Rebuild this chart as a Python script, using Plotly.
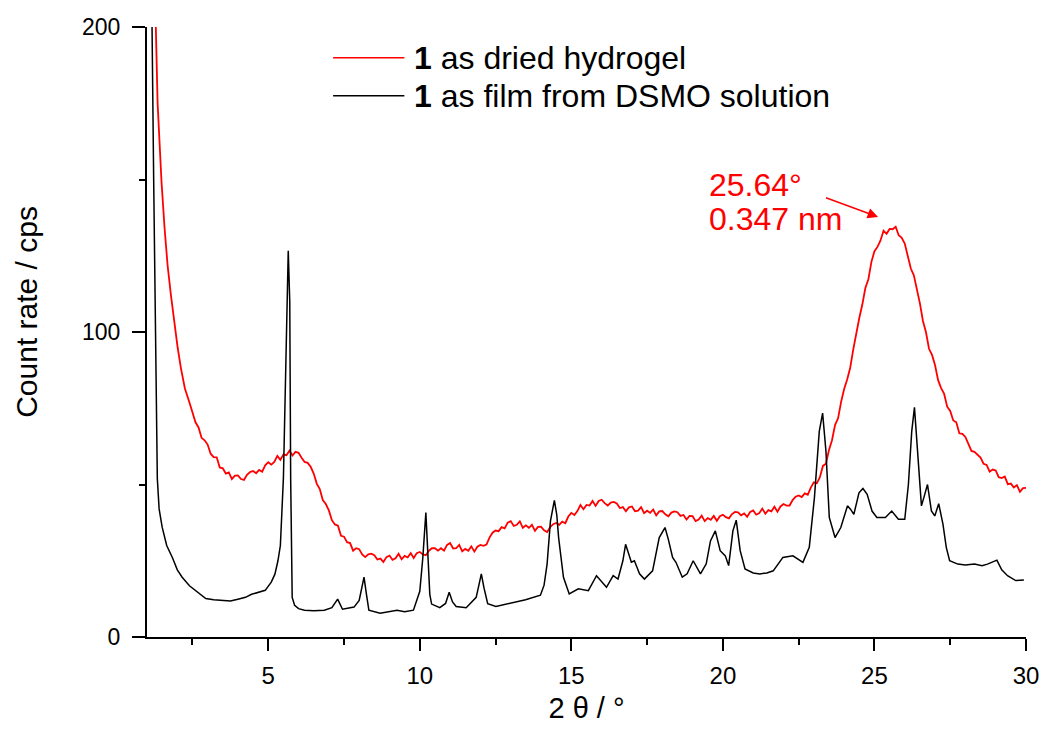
import plotly.graph_objects as go

# ---- data ----
black_x = [1.05, 1.15, 1.22, 1.30, 1.34, 1.40, 1.50, 1.65, 1.84, 2.00, 2.16, 2.40, 2.60, 2.94, 3.20, 3.46, 3.75, 4.00, 4.25, 4.45, 4.70, 4.90, 5.10, 5.22, 5.32, 5.40, 5.50, 5.58, 5.66, 5.71, 5.74, 5.79, 5.87, 6.00, 6.20, 6.50, 6.85, 7.10, 7.29, 7.45, 7.83, 8.00, 8.10, 8.16, 8.24, 8.32, 8.69, 9.00, 9.25, 9.50, 9.79, 10.00, 10.10, 10.20, 10.27, 10.33, 10.39, 10.55, 10.66, 10.85, 10.97, 11.08, 11.20, 11.53, 11.86, 11.95, 12.03, 12.12, 12.24, 12.51, 12.95, 13.49, 13.98, 14.10, 14.20, 14.31, 14.44, 14.52, 14.58, 14.66, 14.74, 14.93, 15.23, 15.56, 15.83, 16.16, 16.38, 16.54, 16.70, 16.79, 16.98, 17.08, 17.25, 17.41, 17.68, 17.90, 18.09, 18.20, 18.34, 18.45, 18.66, 18.82, 19.02, 19.26, 19.45, 19.59, 19.75, 19.91, 20.08, 20.19, 20.33, 20.44, 20.57, 20.73, 21.00, 21.22, 21.45, 21.66, 21.98, 22.31, 22.64, 22.85, 23.02, 23.18, 23.29, 23.40, 23.51, 23.70, 23.89, 24.11, 24.21, 24.32, 24.49, 24.62, 24.76, 24.92, 25.08, 25.36, 25.57, 25.79, 26.00, 26.12, 26.23, 26.32, 26.42, 26.55, 26.63, 26.75, 26.88, 26.99, 27.12, 27.26, 27.37, 27.48, 27.75, 28.00, 28.30, 28.55, 28.73, 29.04, 29.20, 29.39, 29.66, 29.93]
black_y = [260, 215, 150, 85, 52, 42, 36, 30, 26, 22, 19.6, 16.8, 15.3, 12.6, 12.2, 12.0, 11.8, 12.4, 13.0, 14.0, 14.6, 15.3, 18.0, 20.6, 25.0, 30.0, 52.0, 90.0, 126.6, 110.0, 52.0, 13.0, 10.4, 9.3, 8.8, 8.6, 8.8, 9.6, 12.4, 9.1, 9.8, 12.0, 17.0, 19.6, 14.0, 8.8, 7.8, 8.4, 8.8, 8.3, 8.8, 15.0, 26.0, 40.8, 28.0, 14.0, 10.8, 10.0, 9.6, 11.0, 14.7, 11.5, 10.0, 9.6, 13.0, 17.0, 20.7, 16.0, 10.9, 10.0, 11.1, 12.2, 13.7, 17.0, 23.9, 38.0, 44.8, 40.0, 32.6, 25.0, 19.6, 14.1, 15.8, 15.2, 20.1, 16.3, 20.1, 19.0, 25.0, 30.4, 24.5, 25.0, 20.7, 19.0, 21.7, 32.6, 35.9, 32.0, 26.1, 24.5, 19.6, 20.7, 25.0, 20.7, 24.0, 31.5, 34.8, 28.3, 26.6, 23.4, 34.8, 38.3, 28.3, 22.3, 21.0, 20.7, 21.0, 21.7, 26.1, 26.6, 24.5, 29.4, 45.7, 67.4, 73.4, 60.9, 39.2, 32.6, 35.9, 43.0, 41.9, 40.2, 47.3, 48.7, 46.8, 41.3, 39.2, 39.2, 41.3, 38.6, 38.6, 50.0, 67.4, 75.3, 60.9, 43.0, 45.7, 50.0, 41.3, 39.7, 43.7, 37.0, 29.4, 25.0, 23.9, 23.6, 23.9, 23.4, 23.9, 25.2, 22.0, 20.1, 18.5, 18.7]

red_x = [1.22, 1.28, 1.35, 1.42, 1.48, 1.58, 1.68, 1.79, 1.90, 2.01, 2.12, 2.25, 2.39,
         2.5, 2.6, 2.7, 2.8, 2.9, 3.0, 3.1, 3.2, 3.3, 3.4, 3.5, 3.6, 3.7, 3.8, 3.9,
         4.0, 4.1, 4.2, 4.3, 4.4, 4.5, 4.6, 4.7, 4.8, 4.9, 5.0, 5.1, 5.2, 5.3, 5.4, 5.5, 5.6, 5.7, 5.8, 5.9,
         6.0, 6.1, 6.2, 6.3, 6.4, 6.5, 6.6, 6.7, 6.8, 6.9, 7.0, 7.1, 7.2, 7.3, 7.4, 7.5, 7.6, 7.7, 7.8, 7.9,
         8.0, 8.1, 8.2, 8.3, 8.4, 8.5, 8.6, 8.7, 8.8, 8.9, 9.0, 9.1, 9.2, 9.3, 9.4, 9.5, 9.6, 9.7, 9.8, 9.9,
         10.0, 10.1, 10.2, 10.3, 10.4, 10.5, 10.6, 10.7, 10.8, 10.9, 11.0, 11.1, 11.2, 11.3, 11.4, 11.5, 11.6, 11.7, 11.8, 11.9,
         12.0, 12.1, 12.2, 12.3, 12.4, 12.5, 12.6, 12.7, 12.8, 12.9, 13.0, 13.1, 13.2, 13.3, 13.4, 13.5, 13.6, 13.7, 13.8, 13.9,
         14.0, 14.1, 14.2, 14.3, 14.4, 14.5, 14.6, 14.7, 14.8, 14.9, 15.0, 15.1, 15.2, 15.3, 15.4, 15.5, 15.6, 15.7, 15.8, 15.9,
         16.0, 16.1, 16.2, 16.3, 16.4, 16.5, 16.6, 16.7, 16.8, 16.9, 17.0, 17.1, 17.2, 17.3, 17.4, 17.5, 17.6, 17.7, 17.8, 17.9,
         18.0, 18.1, 18.2, 18.3, 18.4, 18.5, 18.6, 18.7, 18.8, 18.9, 19.0, 19.1, 19.2, 19.3, 19.4, 19.5, 19.6, 19.7, 19.8, 19.9,
         20.0, 20.1, 20.2, 20.3, 20.4, 20.5, 20.6, 20.7, 20.8, 20.9, 21.0, 21.1, 21.2, 21.3, 21.4, 21.5, 21.6, 21.7, 21.8, 21.9,
         22.0, 22.1, 22.2, 22.3, 22.4, 22.5, 22.6, 22.7, 22.8, 22.9, 23.0, 23.1, 23.2, 23.3, 23.4, 23.5, 23.6, 23.7, 23.8, 23.9,
         24.0, 24.1, 24.2, 24.3, 24.4, 24.5, 24.6, 24.7, 24.8, 24.9, 25.0, 25.1, 25.2, 25.3, 25.4, 25.5, 25.6, 25.7, 25.8, 25.9,
         26.0, 26.1, 26.2, 26.3, 26.4, 26.5, 26.6, 26.7, 26.8, 26.9, 27.0, 27.1, 27.2, 27.3, 27.4, 27.5, 27.6, 27.7, 27.8, 27.9,
         28.0, 28.1, 28.2, 28.3, 28.4, 28.5, 28.6, 28.7, 28.8, 28.9, 29.0, 29.1, 29.2, 29.3, 29.4, 29.5, 29.6, 29.7, 29.8, 29.9,
         30.0]
red_y = [230, 200, 175, 161, 149, 134, 121.8, 112, 102.8, 95, 88.1, 81.5, 77.2,
         73.7, 70.4, 68.7, 65.3, 64.5, 63.1, 60.1, 59.0, 58.9, 55.6, 55.3, 53.6, 54.0, 51.8, 52.9,
         53.0, 51.8, 51.5, 53.2, 54.1, 54.4, 53.7, 54.8, 54.2, 56.3, 57.3, 56.5, 57.4, 59.4, 58.1, 59.8, 59.6, 61.1, 59.5, 60.7,
         60.4, 58.8, 57.4, 57.1, 55.8, 53.6, 50.3, 48.5, 44.9, 43.6, 41.5, 38.3, 36.9, 36.5, 33.2, 32.9, 31.1, 30.8, 28.3, 29.1,
         28.8, 27.1, 26.2, 27.1, 27.3, 26.8, 25.4, 25.7, 24.6, 26.2, 26.7, 25.3, 25.8, 27.3, 25.5, 26.6, 26.1, 27.5, 25.9, 27.5,
         27.9, 27.1, 26.8, 28.3, 29.1, 29.1, 28.3, 29.1, 28.3, 30.2, 30.8, 29.0, 29.1, 30.2, 28.1, 28.9, 28.3, 29.7, 28.0, 29.6,
         30.2, 29.9, 30.3, 32.6, 34.2, 34.9, 34.7, 36.0, 35.6, 37.5, 38.0, 36.4, 36.8, 37.9, 35.8, 36.6, 35.8, 36.8, 34.8, 36.1,
         36.2, 35.0, 34.4, 36.0, 37.0, 37.4, 36.8, 37.8, 37.3, 39.5, 40.7, 40.0, 41.3, 43.3, 41.9, 43.3, 43.1, 44.6, 43.0, 44.6,
         45.0, 43.9, 43.1, 44.1, 44.3, 43.8, 42.3, 42.6, 41.2, 42.5, 42.8, 41.2, 41.4, 42.6, 40.6, 41.4, 40.7, 41.8, 39.9, 41.2,
         41.3, 40.2, 39.6, 40.8, 41.2, 40.9, 39.7, 40.0, 38.5, 39.7, 39.6, 38.0, 38.5, 39.8, 38.0, 39.0, 38.4, 39.7, 38.1, 39.6,
         40.1, 39.3, 38.9, 40.3, 41.0, 40.9, 39.9, 40.5, 39.4, 41.0, 41.5, 40.1, 40.6, 42.1, 40.4, 41.6, 41.2, 42.7, 41.1, 42.8,
         43.6, 43.1, 43.1, 44.9, 46.0, 46.4, 45.9, 47.1, 46.6, 49.0, 50.7, 50.4, 52.4, 56.1, 56.8, 61.3, 64.5, 69.5, 71.7, 77.1,
         81.3, 84.4, 88.3, 94.2, 99.8, 104.6, 109.0, 114.4, 117.3, 123.0, 126.5, 127.9, 130.0, 133.2, 132.2, 133.8, 133.7, 134.5, 131.7, 130.9,
         129.0, 124.6, 120.8, 118.6, 114.1, 109.4, 103.6, 99.9, 94.5, 92.5, 89.1, 84.2, 81.6, 79.7, 75.5, 74.1, 71.0, 70.4, 66.8, 66.6,
         65.6, 63.0, 61.0, 60.7, 59.8, 58.8, 56.8, 56.4, 54.2, 54.9, 54.6, 52.4, 52.1, 52.6, 50.1, 50.3, 49.0, 49.8, 47.6, 48.8,
         48.9]

legend_labels = ["<b>1</b> as dried hydrogel", "<b>1</b> as film from DSMO solution"]
legend_colors = ["#ff0000", "#000000"]
peak_lines = ["25.64°", "0.347 nm"]
x_title = "2 θ / °"
y_title = "Count rate / cps"
x_ticks = [5, 10, 15, 20, 25, 30]
x_minor = [2.5, 7.5, 12.5, 17.5, 22.5, 27.5]
y_ticks = [0, 100, 200]
y_minor = [50, 150]

FONT = "Liberation Sans, Arial, sans-serif"

W, H = 1051, 731
# plot area in page pixels
PX0, PX1, PY0, PY1 = 147, 1035, 27, 640


def px_to_paper_x(px):
    return (px - PX0) / (PX1 - PX0)


def py_to_paper_y(py):
    return (PY1 - py) / (PY1 - PY0)


fig = go.Figure()
fig.add_trace(go.Scatter(x=red_x, y=red_y, mode="lines", line=dict(color="#ff0000", width=1.8),
                         name="1 as dried hydrogel", showlegend=False, hoverinfo="skip"))
fig.add_trace(go.Scatter(x=black_x, y=black_y, mode="lines", line=dict(color="#000000", width=1.5),
                         name="1 as film from DSMO solution", showlegend=False, hoverinfo="skip"))

# manual legend (long line samples like the original)
for i, (col, txt) in enumerate(zip(legend_colors, legend_labels)):
    yp = py_to_paper_y(58 + 38 * i)
    fig.add_shape(type="line", xref="paper", yref="paper",
                  x0=px_to_paper_x(335), x1=px_to_paper_x(407), y0=yp, y1=yp,
                  line=dict(color=col, width=1.5))
    fig.add_annotation(xref="paper", yref="paper", x=px_to_paper_x(415), y=yp,
                       text=txt, showarrow=False, xanchor="left", yanchor="middle",
                       font=dict(family=FONT, size=32, color="#000000"))

# peak annotation
for txt, yv in zip(peak_lines, [148.1, 137.0]):
    fig.add_annotation(x=19.48, y=yv, xref="x", yref="y", text=txt, showarrow=False,
                       xanchor="left", yanchor="middle", align="left",
                       font=dict(family=FONT, size=32, color="#ff0000"))
fig.add_annotation(x=25.12, y=137.7, ax=23.35, ay=144.2, xref="x", yref="y", axref="x", ayref="y",
                   text="", showarrow=True, arrowhead=2, arrowsize=1.4, arrowwidth=1.5,
                   arrowcolor="#ff0000")

# y axis title placed like the original (slightly above the plot centre)
fig.add_annotation(xref="paper", yref="paper", x=px_to_paper_x(25), y=py_to_paper_y(313),
                   text=y_title, textangle=-90, showarrow=False, xanchor="center", yanchor="middle",
                   font=dict(family=FONT, size=30, color="black"))

fig.update_layout(
    width=W, height=H,
    margin=dict(l=PX0, r=W - PX1, t=PY0, b=H - PY1),
    paper_bgcolor="white", plot_bgcolor="white",
    font=dict(family=FONT, color="black"),
    xaxis=dict(range=[1, 30], tickvals=x_ticks, ticks="outside", ticklen=12, tickwidth=2,
               tickcolor="black", showline=True, linecolor="black", linewidth=2,
               showgrid=False, zeroline=False, ticklabelstandoff=4,
               tickfont=dict(size=24), title=dict(text=x_title, font=dict(size=29), standoff=10),
               minor=dict(tickvals=x_minor, ticks="outside", ticklen=6,
                          tickwidth=2, tickcolor="black")),
    yaxis=dict(range=[0, 200], tickvals=y_ticks, ticks="outside", ticklen=13, tickwidth=2,
               tickcolor="black", showline=True, linecolor="black", linewidth=2,
               showgrid=False, zeroline=False, ticklabelstandoff=7,
               tickfont=dict(size=23),
               minor=dict(tickvals=y_minor, ticks="outside", ticklen=6, tickwidth=2, tickcolor="black")),
)

# remove the default 8px page margin so the figure fills the 1051x731 window exactly
fig.write_html("out.html", config={"displayModeBar": False},
               post_script="document.body.style.margin='0';document.body.style.overflow='hidden';")
